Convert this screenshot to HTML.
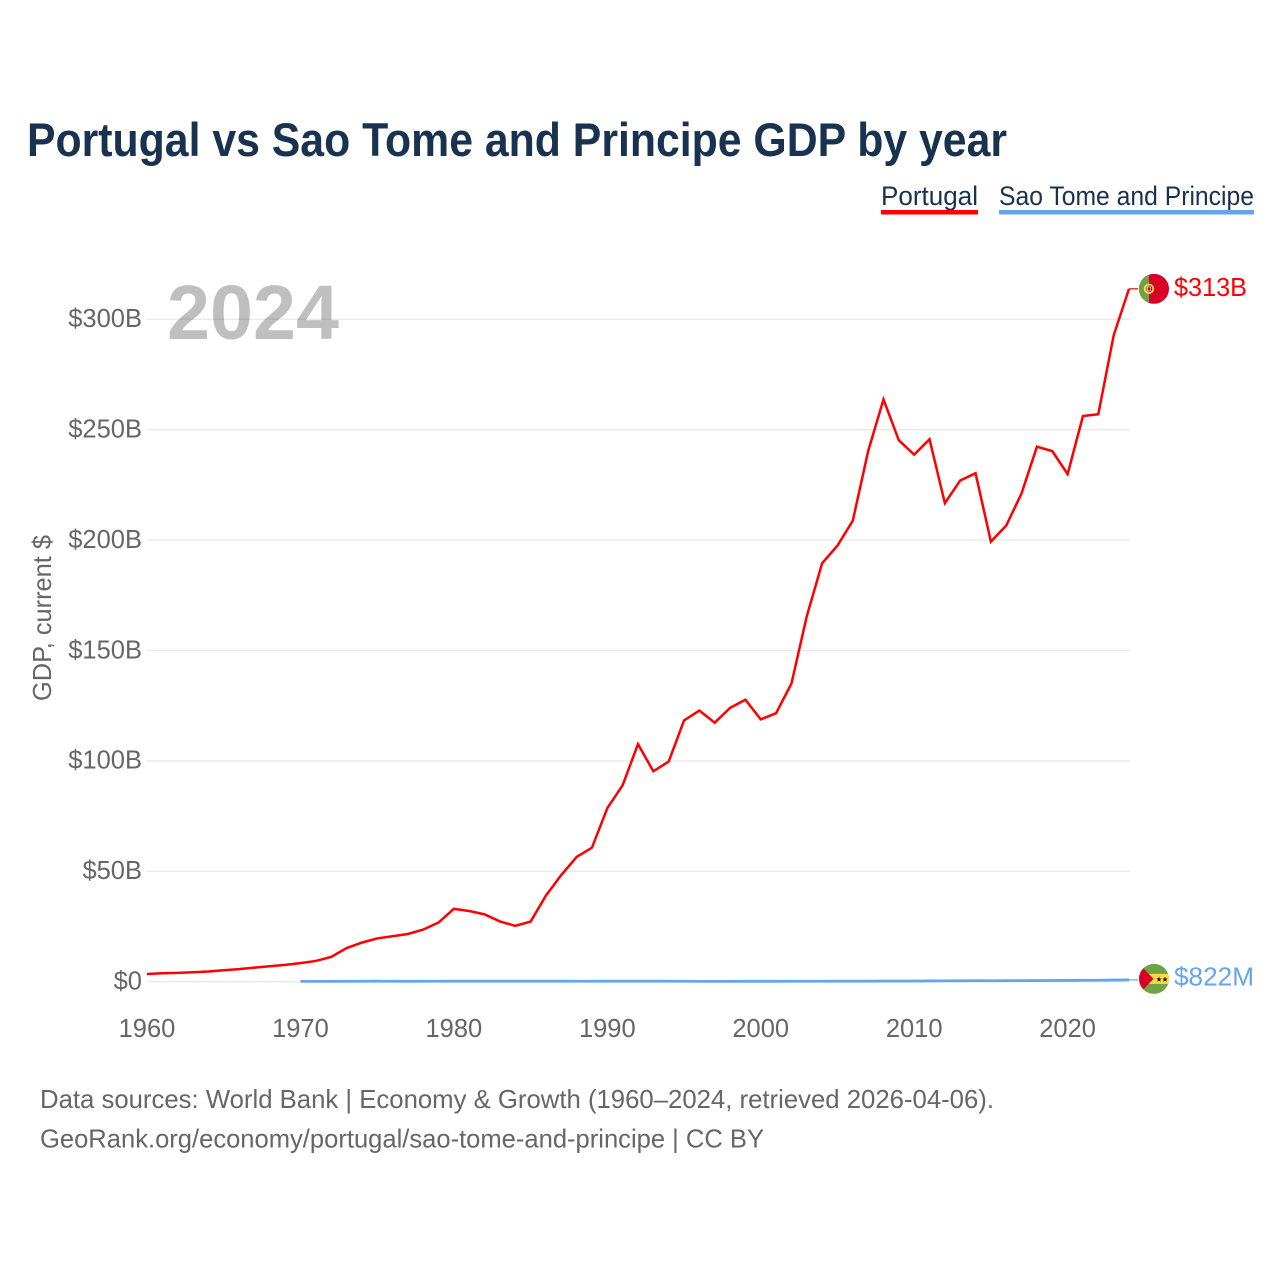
<!DOCTYPE html>
<html lang="en">
<head>
<meta charset="utf-8">
<title>Portugal vs Sao Tome and Principe GDP by year</title>
<style>
html,body{margin:0;padding:0;background:#fff;}
svg{display:block;}
text{font-family:"Liberation Sans",sans-serif;}
</style>
</head>
<body>
<svg id="chart" width="1280" height="1280" viewBox="0 0 1280 1280" xmlns="http://www.w3.org/2000/svg">
  <defs>
    <clipPath id="flag-clip"><circle cx="0" cy="0" r="15"></circle></clipPath>
  </defs>
  <rect x="0" y="0" width="1280" height="1280" fill="#ffffff"></rect>
  <text x="27" y="156" font-size="47" font-weight="700" fill="#18324f" textLength="980" lengthAdjust="spacingAndGlyphs">Portugal vs Sao Tome and Principe GDP by year</text>

  <g>
    <text x="881" y="205" font-size="27" fill="#18324f" textLength="97" lengthAdjust="spacingAndGlyphs">Portugal</text>
    <rect x="881" y="210" width="97" height="4.5" fill="#ff0000"></rect>
  </g>
  <g>
    <text x="999" y="205" font-size="27" fill="#18324f" textLength="255" lengthAdjust="spacingAndGlyphs">Sao Tome and Principe</text>
    <rect x="999" y="210" width="255" height="4.5" fill="#63a6ea"></rect>
  </g>

  <g id="grid"></g>
  <g id="y-axis"></g>
  <g id="x-axis"></g>

  <text transform="translate(51,701) rotate(-90)" font-size="26" fill="#666666" textLength="166" lengthAdjust="spacingAndGlyphs">GDP, current $</text>

  <text x="167" y="339" font-size="77" font-weight="700" fill="#000000" fill-opacity="0.25" textLength="172" lengthAdjust="spacingAndGlyphs">2024</text>

  <g id="series"></g>

  <g id="flag-portugal">
    <g clip-path="url(#flag-clip)">
      <rect x="-15" y="-15" width="30" height="30" fill="#d80027"></rect>
      <rect x="-15" y="-15" width="10" height="30" fill="#6da544"></rect>
      <circle cx="-5" cy="0" r="4.3" fill="none" stroke="#ffda44" stroke-width="1.8"></circle>
      <rect x="-6.6" y="-1.8" width="3.2" height="3.8" fill="#d80027" stroke="#f0f0f0" stroke-width="0.6"></rect>
    </g>
  </g>
  <g id="flag-sao-tome">
    <g clip-path="url(#flag-clip)">
      <rect x="-15" y="-15" width="30" height="30" fill="#6da544"></rect>
      <rect x="-15" y="-5" width="30" height="10" fill="#ffda44"></rect>
      <polygon points="-15,-15 -0.5,0 -15,15" fill="#d80027"></polygon>
      <polygon points="5,-2.4 5.7,-0.4 7.7,-0.4 6.1,0.9 6.7,2.9 5,1.7 3.3,2.9 3.9,0.9 2.3,-0.4 4.3,-0.4" fill="#111111"></polygon>
      <polygon points="11,-2.4 11.7,-0.4 13.7,-0.4 12.1,0.9 12.7,2.9 11,1.7 9.3,2.9 9.9,0.9 8.3,-0.4 10.3,-0.4" fill="#111111"></polygon>
    </g>
  </g>
  <text id="label-portugal" x="1174" font-size="26" fill="#ff0000" textLength="73" lengthAdjust="spacingAndGlyphs">$313B</text>
  <text id="label-sao-tome" x="1174" font-size="26" fill="#63a6ea" textLength="80" lengthAdjust="spacingAndGlyphs">$822M</text>

  <text x="40" y="1108" font-size="26" fill="#666666" textLength="954" lengthAdjust="spacingAndGlyphs">Data sources: World Bank | Economy &amp; Growth (1960–2024, retrieved 2026-04-06).</text>
  <text x="40" y="1147.5" font-size="26" fill="#666666" textLength="724" lengthAdjust="spacingAndGlyphs">GeoRank.org/economy/portugal/sao-tome-and-principe | CC BY</text>
</svg>
<script>
// GDP in billions of current US$
const portugalYears = [1960,1961,1962,1963,1964,1965,1966,1967,1968,1969,1970,1971,1972,1973,1974,1975,1976,1977,1978,1979,1980,1981,1982,1983,1984,1985,1986,1987,1988,1989,1990,1991,1992,1993,1994,1995,1996,1997,1998,1999,2000,2001,2002,2003,2004,2005,2006,2007,2008,2009,2010,2011,2012,2013,2014,2015,2016,2017,2018,2019,2020,2021,2022,2023,2024];
const portugalValues = [3.5,3.8,4.0,4.3,4.6,5.2,5.7,6.4,7.0,7.6,8.4,9.4,11.2,15.2,17.7,19.6,20.6,21.6,23.6,26.8,33.0,32.0,30.5,27.3,25.3,27.2,39.0,48.3,56.5,60.7,78.6,89.0,107.6,95.3,99.7,118.3,122.8,117.3,124.0,127.7,118.8,121.6,135.0,165.5,189.5,197.5,208.8,240.3,263.7,245.2,238.7,245.7,216.7,227.0,230.3,199.3,206.6,221.2,242.3,240.3,229.9,256.2,257.0,292.7,313.8];
const saoTomeYears = [1970,1971,1972,1973,1974,1975,1976,1977,1978,1979,1980,1981,1982,1983,1984,1985,1986,1987,1988,1989,1990,1991,1992,1993,1994,1995,1996,1997,1998,1999,2000,2001,2002,2003,2004,2005,2006,2007,2008,2009,2010,2011,2012,2013,2014,2015,2016,2017,2018,2019,2020,2021,2022,2023,2024];
const saoTomeValues = [0.15,0.15,0.16,0.18,0.2,0.22,0.2,0.18,0.19,0.21,0.24,0.23,0.23,0.23,0.22,0.22,0.23,0.22,0.21,0.2,0.22,0.22,0.22,0.22,0.21,0.2,0.15,0.15,0.15,0.18,0.18,0.18,0.19,0.2,0.21,0.23,0.23,0.24,0.29,0.29,0.3,0.35,0.36,0.41,0.45,0.42,0.45,0.48,0.51,0.53,0.57,0.63,0.65,0.75,0.822];
const yTickValues = [0,50,100,150,200,250,300];
const yTickLabels = ["$0","$50B","$100B","$150B","$200B","$250B","$300B"];
const xTickValues = [1960,1970,1980,1990,2000,2010,2020];
const xTickLabels = ["1960","1970","1980","1990","2000","2010","2020"];

const SVGNS = "http://www.w3.org/2000/svg";
function xScale(year){ return 147 + (year - 1960) * (1129 - 147) / (2024 - 1960); }
function yScale(value){ return 981.7 - value * (981.7 - 319.3) / 300; }
function pathFor(years, values){
  return years.map(function(yr, i){
    return (i ? "L" : "M") + xScale(yr).toFixed(2) + " " + yScale(values[i]).toFixed(2);
  }).join("");
}

const gridGroup = document.getElementById("grid");
const yAxisGroup = document.getElementById("y-axis");
yTickValues.forEach(function(v, i){
  const line = document.createElementNS(SVGNS, "line");
  
  
  line.setAttribute("x1", 147);
  line.setAttribute("x2", 1130);
  line.setAttribute("y1", yScale(v));
  line.setAttribute("y2", yScale(v));
  line.setAttribute("stroke", "#ebebeb");
  line.setAttribute("stroke-width", 1.5);
  gridGroup.appendChild(line);

  const label = document.createElementNS(SVGNS, "text");
  
  
  label.setAttribute("x", 142);
  label.setAttribute("y", yScale(v) + 7.8);
  label.setAttribute("text-anchor", "end");
  label.setAttribute("font-size", 25.5);
  label.setAttribute("fill", "#666666");
  label.textContent = yTickLabels[i];
  yAxisGroup.appendChild(label);
});

const xAxisGroup = document.getElementById("x-axis");
xTickValues.forEach(function(v, i){
  const label = document.createElementNS(SVGNS, "text");
  
  
  label.setAttribute("x", xScale(v));
  label.setAttribute("y", 1037);
  label.setAttribute("text-anchor", "middle");
  label.setAttribute("font-size", 25.5);
  label.setAttribute("fill", "#666666");
  label.textContent = xTickLabels[i];
  xAxisGroup.appendChild(label);
});

const seriesGroup = document.getElementById("series");
const portugalLine = document.createElementNS(SVGNS, "path");


portugalLine.setAttribute("d", pathFor(portugalYears, portugalValues));
portugalLine.setAttribute("fill", "none");
portugalLine.setAttribute("stroke", "#ff0000");
portugalLine.setAttribute("stroke-width", 2.5);
seriesGroup.appendChild(portugalLine);

const saoTomeLine = document.createElementNS(SVGNS, "path");


saoTomeLine.setAttribute("d", pathFor(saoTomeYears, saoTomeValues));
saoTomeLine.setAttribute("fill", "none");
saoTomeLine.setAttribute("stroke", "#63a6ea");
saoTomeLine.setAttribute("stroke-width", 2.8);
seriesGroup.appendChild(saoTomeLine);

const pEndY = yScale(portugalValues[portugalValues.length - 1]);
const sEndY = yScale(saoTomeValues[saoTomeValues.length - 1]);

const pConnector = document.createElementNS(SVGNS, "line");


pConnector.setAttribute("x1", xScale(2024));
pConnector.setAttribute("x2", 1138);
pConnector.setAttribute("y1", pEndY);
pConnector.setAttribute("y2", pEndY);
pConnector.setAttribute("stroke", "#ff0000");
pConnector.setAttribute("stroke-width", 1.2);
seriesGroup.appendChild(pConnector);

const sConnector = document.createElementNS(SVGNS, "line");


sConnector.setAttribute("x1", xScale(2024));
sConnector.setAttribute("x2", 1138);
sConnector.setAttribute("y1", sEndY);
sConnector.setAttribute("y2", sEndY);
sConnector.setAttribute("stroke", "#63a6ea");
sConnector.setAttribute("stroke-width", 1.2);
seriesGroup.appendChild(sConnector);

document.getElementById("flag-portugal").setAttribute("transform", "translate(1154," + pEndY + ")");
document.getElementById("flag-sao-tome").setAttribute("transform", "translate(1154," + (sEndY - 1) + ")");
document.getElementById("label-portugal").setAttribute("y", pEndY + 7);
document.getElementById("label-sao-tome").setAttribute("y", sEndY + 5.5);
</script>
</body>
</html>
